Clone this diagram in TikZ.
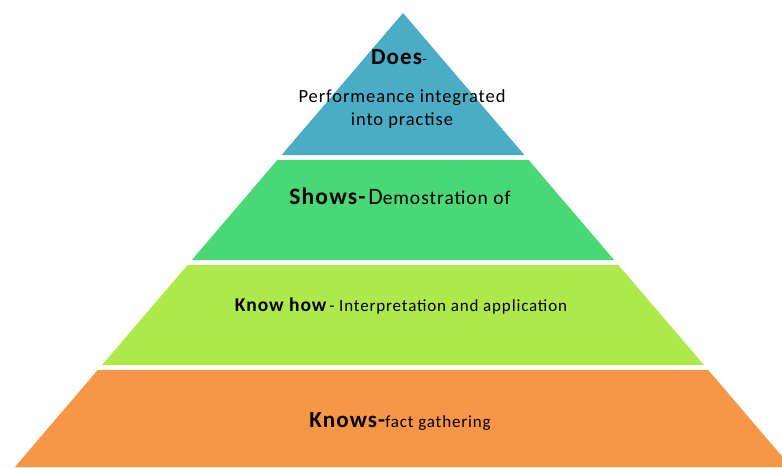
\documentclass[tikz,border=0pt]{standalone}
\usepackage{fontspec}
\setmainfont[LetterSpace=5]{Carlito}
\definecolor{doesblue}{HTML}{4BACC6}
\definecolor{showsgreen}{HTML}{4AD877}
\definecolor{howlime}{HTML}{AEE84A}
\definecolor{knowsorange}{HTML}{F79646}
\tikzset{
	tiertext/.style={inner sep=0pt, anchor=center, text=black},
}
\begin{document}
\begin{tikzpicture}[x=1pt,y=-1pt]
		\useasboundingbox (0,0) rectangle (782,467);
		% tiers of the pyramid
		\foreach \ytop/\ybot/\col in {13/155/doesblue, 160/260/showsgreen, 265/365/howlime, 370/467/knowsorange}
			\fill [\col] ({403-0.855*(\ytop-13)},\ytop) -- ({403+0.855*(\ytop-13)},\ytop)
				-- ({403+0.855*(\ybot-13)},\ybot) -- ({403-0.855*(\ybot-13)},\ybot) -- cycle;
		% labels
		\node [tiertext] (does) at (399,57) {{\fontsize{23}{26}\selectfont\bfseries Does}{\fontsize{16}{18}\selectfont -}};
		\node [tiertext, align=center, font=\fontsize{18.5}{23}\selectfont] (doestext) at (402,109) {Performeance integrated\\into practise};
		\node [tiertext] (shows) at (400,196) {{\fontsize{23.5}{26}\selectfont\bfseries Shows-} {\fontsize{23.5}{26}\selectfont D}{\fontsize{19.5}{22}\selectfont emostration of}};
		\node [tiertext] (knowhow) at (401,306) {{\fontsize{19.5}{22}\selectfont\bfseries Know how} {\fontsize{17}{19}\selectfont - Interpretation and application}};
		\node [tiertext] (knows) at (400,421) {{\fontsize{23}{26}\selectfont\bfseries Knows-}{\fontsize{17}{20}\selectfont fact gathering}};
	\end{tikzpicture}
\end{document}
